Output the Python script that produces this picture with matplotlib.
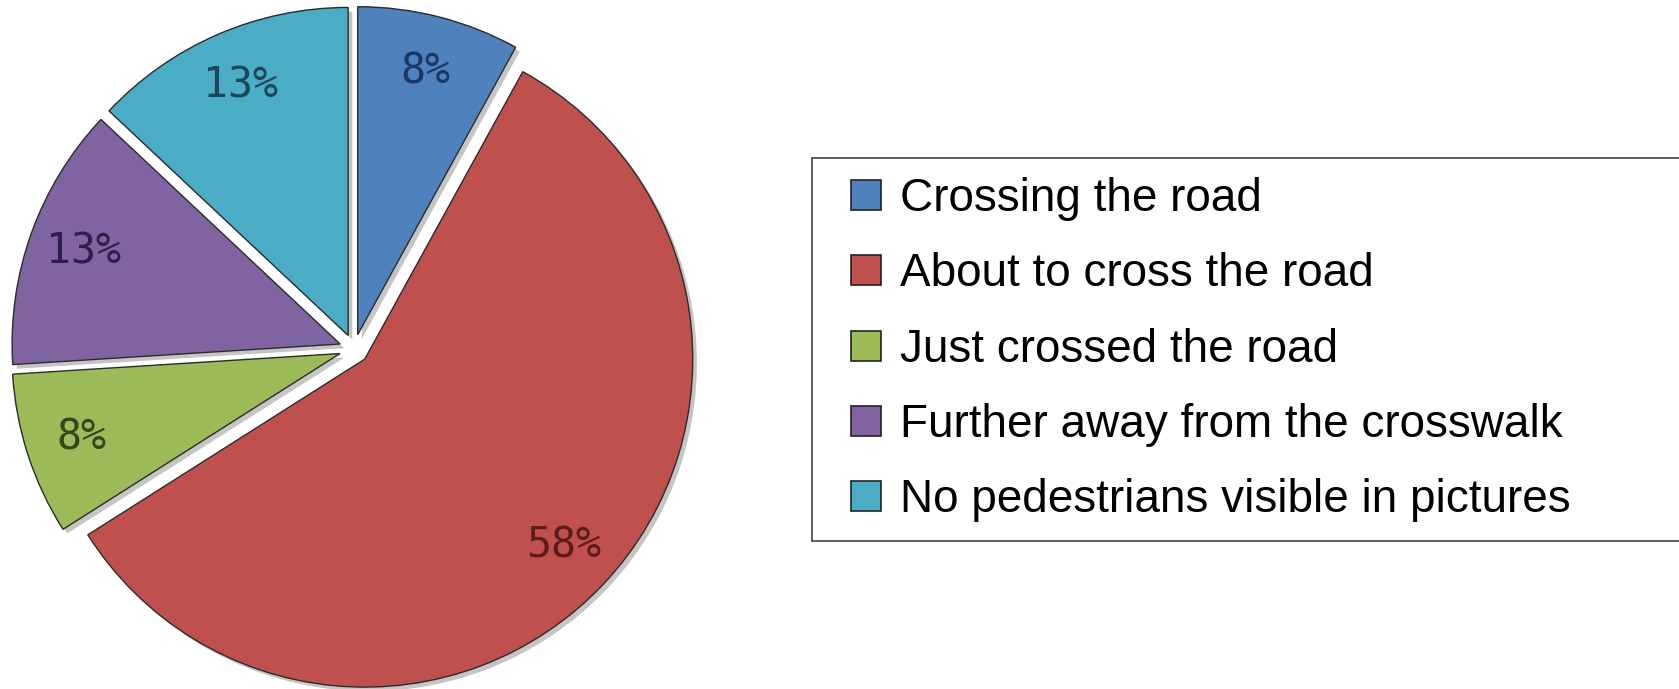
import matplotlib.pyplot as plt
import matplotlib.patheffects as pe
from matplotlib.lines import Line2D
from matplotlib import font_manager

# share of pictures per pedestrian situation
labels = ['Crossing the road', 'About to cross the road', 'Just crossed the road',
          'Further away from the crosswalk', 'No pedestrians visible in pictures']
shares = [8, 58, 8, 13, 13]
colors = ['#4f81bd', '#c0504d', '#9bbb59', '#8064a2', '#4bacc6']
text_colors = ['#1c3664', '#5c1c1a', '#34461a', '#2c1f4a', '#1a4656']

installed = {f.name for f in font_manager.fontManager.ttflist}
legend_font = 'Liberation Sans Narrow' if 'Liberation Sans Narrow' in installed else 'Liberation Sans'

fig = plt.figure(figsize=(16.79, 6.89), dpi=100)

# pie axes: centre around (354, 349) px, radius ~328 px
r_px = 328
lim = 1.1
side = 2 * lim * r_px
cx, cy = 354, 689 - 349
ax = fig.add_axes([(cx - side / 2) / 1679, (cy - side / 2) / 689, side / 1679, side / 689])

wedges, texts, autotexts = ax.pie(
    shares, colors=colors, startangle=90, counterclock=False,
    explode=[0.045] * len(shares), autopct='%d%%', pctdistance=0.83,
    wedgeprops=dict(edgecolor='#2b2b2b', linewidth=1.0),
    textprops=dict(family='DejaVu Sans Mono', fontsize=30))
for w in wedges:
    w.set_path_effects([pe.SimplePatchShadow(offset=(3, -3), shadow_rgbFace='0.55', alpha=0.5),
                        pe.Normal()])
for t, c in zip(autotexts, text_colors):
    t.set_color(c)
ax.set_xlim(-lim, lim)
ax.set_ylim(-lim, lim)
ax.set_aspect('equal')
ax.axis('off')

handles = [Line2D([], [], linestyle='none', marker='s', markersize=21,
                  markerfacecolor=c, markeredgecolor='#222222', markeredgewidth=1.2)
           for c in colors]
leg = fig.legend(handles, labels, loc='upper left',
                 bbox_to_anchor=(812 / 1679, 1 - 158 / 689, 880 / 1679, 0.0),
                 mode='expand', frameon=True, fancybox=False,
                 prop=dict(family=legend_font, size=33),
                 handlelength=1.5, handletextpad=0.0,
                 labelspacing=0.68, borderpad=0.42, borderaxespad=0)
leg.get_frame().set_edgecolor('#222222')
leg.get_frame().set_linewidth(1.3)

fig.savefig('out.png', dpi=100, facecolor='white')
